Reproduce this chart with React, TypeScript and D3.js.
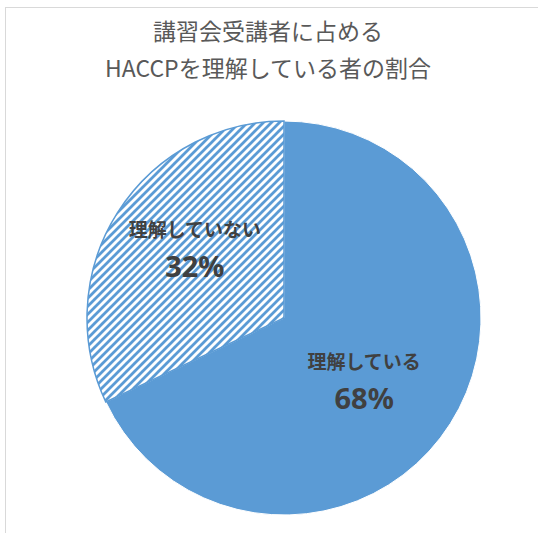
import { useEffect, useRef } from "react";
import * as d3 from "d3";

const TITLE_LINES = ["講習会受講者に占める", "HACCPを理解している者の割合"];
const CATEGORIES = ["理解している", "理解していない"];
const VALUES = [68, 32];

const BLUE = "#5B9BD5";

export default function App() {
  const svgRef = useRef<SVGSVGElement>(null);

  useEffect(() => {
    if (!svgRef.current) return;
    const width = 538;
    const height = 533;
    const cx = 284;
    const cy = 318;
    const radius = 197;

    d3.select(svgRef.current).selectAll("*").remove();
    const svg = d3.select(svgRef.current)
      .attr("width", width)
      .attr("height", height)
      .attr("viewBox", `0 0 ${width} ${height}`);

    // hatch pattern (wide upward diagonal)
    const defs = svg.append("defs");
    const pat = defs.append("pattern")
      .attr("id", "hatch")
      .attr("patternUnits", "userSpaceOnUse")
      .attr("width", 8)
      .attr("height", 8);
    pat.append("rect").attr("width", 8).attr("height", 8).attr("fill", "#fff");
    pat.append("path")
      .attr("d", "M-2,2 L2,-2 M0,8 L8,0 M6,10 L10,6")
      .attr("stroke", BLUE)
      .attr("stroke-width", 2.8);

    svg.append("rect")
      .attr("width", width).attr("height", height).attr("fill", "#fff");

    // chart frame
    svg.append("rect")
      .attr("x", 5.5).attr("y", 7.5)
      .attr("width", width).attr("height", height)
      .attr("fill", "none")
      .attr("stroke", "#d9d9d9")
      .attr("stroke-width", 1);

    // title
    TITLE_LINES.forEach((t, i) => {
      svg.append("text")
        .attr("x", 268)
        .attr("y", 40 + i * 37)
        .attr("text-anchor", "middle")
        .attr("fill", "#595959")
        .attr("font-size", "23px")
        .attr("font-family", "'Noto Sans CJK JP', 'Noto Sans', sans-serif")
        .text(t);
    });

    const pie = d3.pie<number>().sort(null).value(d => d);
    const arcs = pie(VALUES);
    const arc = d3.arc<d3.PieArcDatum<number>>().innerRadius(0).outerRadius(radius);

    const g = svg.append("g").attr("transform", `translate(${cx},${cy})`);

    g.selectAll("path.slice")
      .data(arcs)
      .join("path")
      .attr("class", "slice")
      .attr("d", arc)
      .attr("fill", (_, i) => (i === 0 ? BLUE : "url(#hatch)"))
      .attr("stroke", (_, i) => (i === 0 ? "#fff" : BLUE))
      .attr("stroke-width", (_, i) => (i === 0 ? 1 : 1.5));

    // data labels
    const labelArc = d3.arc<d3.PieArcDatum<number>>()
      .innerRadius(radius * 0.5)
      .outerRadius(radius * 0.5);
    const labelOffsets = [[-3, 0], [-6, -26]];

    arcs.forEach((a, i) => {
      const [lx, ly] = labelArc.centroid(a);
      const x = lx + labelOffsets[i][0];
      const y = ly + labelOffsets[i][1];
      g.append("text")
        .attr("x", x)
        .attr("y", y - 2)
        .attr("text-anchor", "middle")
        .attr("fill", "#404040")
        .attr("font-size", "19px")
        .attr("font-weight", "bold")
        .attr("font-family", "'Noto Sans CJK JP', sans-serif")
        .text(CATEGORIES[i]);
      g.append("text")
        .attr("x", x)
        .attr("y", y + 38)
        .attr("text-anchor", "middle")
        .attr("fill", "#404040")
        .attr("font-size", "29px")
        .attr("font-weight", "bold")
        .attr("font-family", "'Noto Sans', 'Open Sans', sans-serif")
        .text(`${VALUES[i]}%`);
    });
  }, []);

  return (
    <svg ref={svgRef} style={{ position: "absolute", left: 0, top: 0, display: "block" }} />
  );
}
